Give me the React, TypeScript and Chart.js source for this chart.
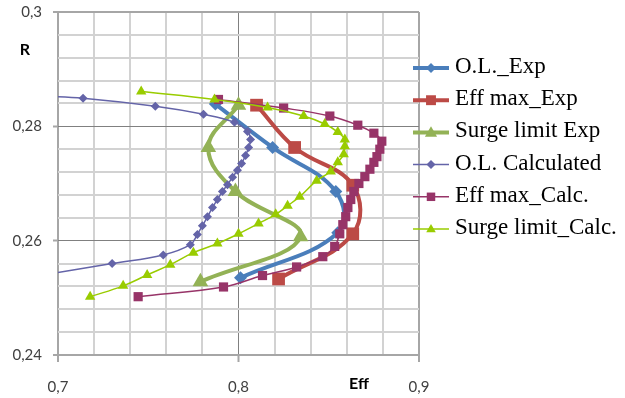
import React, { useEffect, useRef } from "react";
import { Chart, registerables } from "chart.js";

Chart.register(...registerables);

// ---- Data ----
const seriesNames = [
  "O.L._Exp",
  "Eff max_Exp",
  "Surge limit Exp",
  "O.L. Calculated",
  "Eff max_Calc.",
  "Surge limit_Calc.",
];

const olExpX = [0.7872, 0.8189, 0.8539, 0.855, 0.8011];
const olExpY = [0.2839, 0.2763, 0.2686, 0.2614, 0.2535];

const effExpX = [0.81, 0.8311, 0.8633, 0.8633, 0.8222];
const effExpY = [0.2837, 0.2763, 0.2697, 0.2612, 0.2533];

const surgeExpX = [0.8, 0.7833, 0.7983, 0.8344, 0.7789];
const surgeExpY = [0.2837, 0.2763, 0.2686, 0.2607, 0.2528];

const olCalcX = [
  0.69, 0.7139, 0.7539, 0.7806, 0.7978, 0.805, 0.8067, 0.8056, 0.8039, 0.8017,
  0.7994, 0.7967, 0.7939, 0.7911, 0.7883, 0.7856, 0.7828, 0.78, 0.7772, 0.7733,
  0.7583, 0.73, 0.69,
];
const olCalcY = [
  0.2853, 0.2849, 0.2835, 0.2821, 0.2807, 0.2791, 0.2777, 0.2763, 0.2749, 0.2735,
  0.2723, 0.2711, 0.2698, 0.2686, 0.2672, 0.2658, 0.2642, 0.2626, 0.2611, 0.2593,
  0.2575, 0.256, 0.2539,
];

const effCalcX = [
  0.7444, 0.7917, 0.8133, 0.8322, 0.8467, 0.8533, 0.8561, 0.8578, 0.8594, 0.8606,
  0.8622, 0.8639, 0.8667, 0.87, 0.8728, 0.875, 0.8767, 0.8783, 0.8794, 0.875,
  0.8661, 0.8506, 0.825, 0.7889,
];
const effCalcY = [
  0.2502, 0.2519, 0.2539, 0.2554, 0.2572, 0.259, 0.2612, 0.2628, 0.2642, 0.2658,
  0.2672, 0.2686, 0.27, 0.2712, 0.2725, 0.2737, 0.2747, 0.276, 0.2774, 0.2788,
  0.2802, 0.2818, 0.2832, 0.2847,
];

const surgeCalcX = [
  0.7461, 0.7867, 0.8161, 0.8361, 0.8478, 0.855, 0.8589, 0.8589, 0.8583, 0.855,
  0.8511, 0.8433, 0.8339, 0.8272, 0.8206, 0.8111, 0.8, 0.7883, 0.775, 0.7622,
  0.7494, 0.7361, 0.7178,
];
const surgeCalcY = [
  0.2861, 0.2847, 0.2833, 0.2818, 0.2804, 0.279, 0.2777, 0.2765, 0.2751, 0.2737,
  0.2721, 0.2705, 0.2677, 0.2661, 0.2646, 0.263, 0.2612, 0.2595, 0.2579, 0.2558,
  0.254, 0.2521, 0.2502,
];

const xTickValues = [0.7, 0.8, 0.9];
const xTickLabels = ["0,7", "0,8", "0,9"];
const yTickValues = [0.24, 0.26, 0.28, 0.3];
const yTickLabels = ["0,24", "0,26", "0,28", "0,3"];
const xTitle = "Eff";
const yTitle = "R";

// ---- Styles ----
const seriesStyles = [
  { color: "#4A7EBB", lw: 4, ps: "rectRot", r: 6.5, lr: 5, llw: 4 },
  { color: "#BC4A46", lw: 4, ps: "rect", r: 9, lr: 7, llw: 4 },
  { color: "#93B256", lw: 4, ps: "triangle", r: 9, lr: 7, llw: 4 },
  { color: "#6464A8", lw: 1.5, ps: "rectRot", r: 4.5, lr: 4.5, llw: 1.5 },
  { color: "#973468", lw: 1.5, ps: "rect", r: 6.5, lr: 6, llw: 1.5 },
  { color: "#99CC00", lw: 1.5, ps: "triangle", r: 6, lr: 5.5, llw: 1.5 },
];

const xs = [olExpX, effExpX, surgeExpX, olCalcX, effCalcX, surgeCalcX];
const ys = [olExpY, effExpY, surgeExpY, olCalcY, effCalcY, surgeCalcY];

function near(a: number, list: number[]) {
  return list.findIndex((t) => Math.abs(t - a) < 1e-6);
}

function drawMarker(ctx: CanvasRenderingContext2D, ps: string, x: number, y: number, r: number, color: string) {
  ctx.fillStyle = color;
  ctx.beginPath();
  if (ps === "rectRot") {
    ctx.moveTo(x, y - r);
    ctx.lineTo(x + r, y);
    ctx.lineTo(x, y + r);
    ctx.lineTo(x - r, y);
  } else if (ps === "rect") {
    const s = r * Math.SQRT1_2;
    ctx.rect(x - s, y - s, 2 * s, 2 * s);
  } else {
    const h = r * 1.5;
    ctx.moveTo(x, y - h / 2 - 1);
    ctx.lineTo(x + r * 0.87, y + h / 2 - 1);
    ctx.lineTo(x - r * 0.87, y + h / 2 - 1);
  }
  ctx.closePath();
  ctx.fill();
}

const legendPlugin = {
  id: "customLegend",
  afterDraw(chart: any) {
    const ctx: CanvasRenderingContext2D = chart.ctx;
    ctx.save();
    seriesNames.forEach((name, i) => {
      const st = seriesStyles[i];
      const y = 68 + i * 32.2;
      ctx.strokeStyle = st.color;
      ctx.lineWidth = st.llw;
      ctx.beginPath();
      ctx.moveTo(413, y);
      ctx.lineTo(449, y);
      ctx.stroke();
      drawMarker(ctx, st.ps, 431, y, st.lr, st.color);
      ctx.fillStyle = "#000";
      ctx.font = '23px "Liberation Serif"';
      ctx.textBaseline = "alphabetic";
      ctx.textAlign = "left";
      ctx.fillText(name, 455, y + 5);
    });
    ctx.font = 'bold 16px Lato';
    ctx.textAlign = "center";
    ctx.textBaseline = "middle";
    ctx.fillStyle = "#000";
    ctx.fillText(yTitle, 25, 50);
    ctx.fillText(xTitle, 359, 384);
    ctx.restore();
  },
};

export default function App() {
  const ref = useRef<HTMLCanvasElement>(null);
  useEffect(() => {
    const canvas = ref.current!;
    const datasets = seriesNames.map((name, i) => {
      const st = seriesStyles[i];
      return {
        label: name,
        data: xs[i].map((x, j) => ({ x, y: ys[i][j] })),
        showLine: true,
        tension: 0.4,
        borderColor: st.color,
        backgroundColor: st.color,
        borderWidth: st.lw,
        pointStyle: st.ps,
        pointRadius: st.r,
        pointBorderWidth: 0,
        pointBackgroundColor: st.color,
        order: 5 - i,
      };
    });
    const chart = new Chart(canvas, {
      type: "scatter",
      data: { datasets } as any,
      plugins: [legendPlugin],
      options: {
        responsive: false,
        animation: false,
        devicePixelRatio: 1,
        events: [],
        layout: { padding: { left: 0, right: 206, top: 12, bottom: 0 } },
        plugins: { legend: { display: false }, tooltip: { enabled: false } },
        scales: {
          x: {
            type: "linear",
            min: 0.7,
            max: 0.9,
            afterFit: (s: any) => {
              s.height = 43;
              s.paddingLeft = 0;
              s.paddingRight = 0;
            },
            border: { display: false },
            grid: {
              color: (c: any) => {
                const v = c.tick.value;
                if (near(v, [0.8]) >= 0) return "#808080";
                if (near(v, [0.7, 0.9]) >= 0) return "#a6a6a6";
                return "#d2d2d2";
              },
              lineWidth: (c: any) => (near(c.tick.value, [0.8]) >= 0 ? 1 : 2),
              tickLength: 7,
              tickColor: (c: any) => (near(c.tick.value, xTickValues) >= 0 ? "#a6a6a6" : "rgba(0,0,0,0)"),
              tickWidth: 2,
            },
            ticks: {
              stepSize: 0.02,
              autoSkip: false,
              maxRotation: 0,
              padding: 16,
              color: "#404040",
              font: { family: "Lato", size: 15 },
              callback: (v: any) => {
                const i = near(Number(v), xTickValues);
                return i >= 0 ? xTickLabels[i] : "";
              },
            },
          },
          y: {
            type: "linear",
            min: 0.24,
            max: 0.3,
            afterFit: (s: any) => {
              s.width = 58;
              s.paddingTop = 0;
              s.paddingBottom = 0;
            },
            border: { display: false },
            grid: {
              color: (c: any) => {
                const v = c.tick.value;
                if (near(v, [0.26, 0.28]) >= 0) return "#808080";
                if (near(v, [0.24, 0.3]) >= 0) return "#a6a6a6";
                return "#d2d2d2";
              },
              lineWidth: (c: any) => (near(c.tick.value, [0.26, 0.28]) >= 0 ? 1 : 2),
              tickLength: 5,
              tickColor: (c: any) => (near(c.tick.value, yTickValues) >= 0 ? "#a6a6a6" : "rgba(0,0,0,0)"),
              tickWidth: 2,
            },
            ticks: {
              stepSize: 0.004,
              autoSkip: false,
              padding: 11,
              color: "#404040",
              font: { family: "Lato", size: 15 },
              callback: (v: any) => {
                const i = near(Number(v), yTickValues);
                return i >= 0 ? yTickLabels[i] : "";
              },
            },
          },
        },
      } as any,
    });
    return () => chart.destroy();
  }, []);
  return (
    <div style={{ position: "absolute", left: 0, top: 0, width: 625, height: 398, background: "#fff" }}>
      <canvas ref={ref} width={625} height={398} style={{ display: "block", width: 625, height: 398 }} />
    </div>
  );
}
